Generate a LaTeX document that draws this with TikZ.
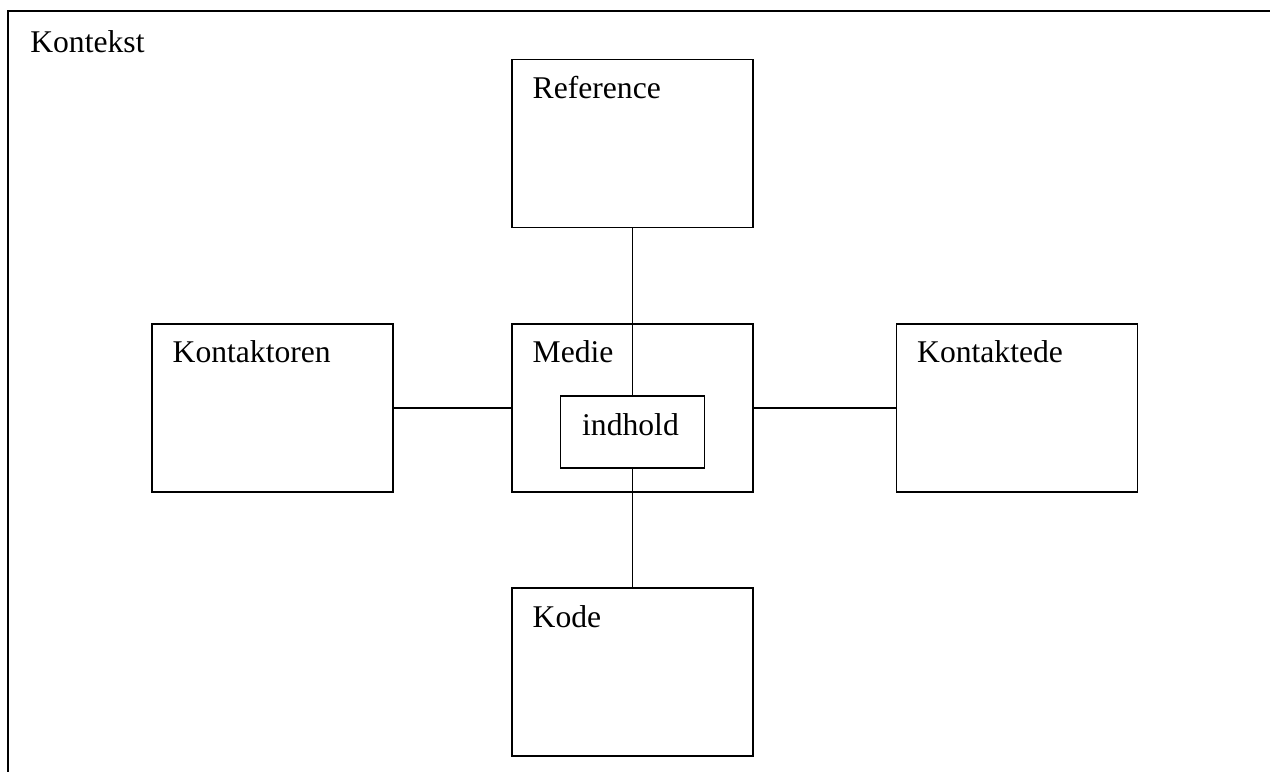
\documentclass[tikz,border=0pt]{standalone}
\usepackage{fontspec}
\setmainfont{Liberation Serif}
\usetikzlibrary{positioning}

\begin{document}
\begin{tikzpicture}[x=0.02cm, y=-0.02cm,
		boks/.style={draw, line width=0.8pt, inner sep=0pt, minimum width=4.82cm, minimum height=3.36cm},
		navn/.style={anchor=base west, inner sep=0pt, font=\fontsize{18}{22}\selectfont},
		forbind/.style={line width=0.8pt}]
			\useasboundingbox (0, 0) rectangle (1270, 771);
			\clip (0, 0) rectangle (1270, 771);

			% ramme for konteksten, kun venstre og oeverste kant er synlige
			\node[anchor=north west, inner sep=0pt, minimum width=30cm, minimum height=20cm] (kontekst) at (8, 11) {};
			\draw[line width=1.3pt] (kontekst.south west) -- (kontekst.north west) -- (kontekst.north east);
			\node[navn] (kontekstnavn) at ([shift={(22, 41)}]kontekst.north west) {Kontekst};

			\node[boks] (reference) at (632.5, 143.5) {};
			\node[boks] (medie) at (632.5, 408) {};
			\node[boks] (kode) at (632.5, 672) {};
			\node[boks] (kontaktoren) at (272.5, 408) {};
			\node[boks] (kontaktede) at (1017, 408) {};
			\node[draw, line width=0.8pt, inner sep=0pt, minimum width=2.88cm, minimum height=1.44cm] (indhold) at (632.5, 432) {};

			\node[navn] (referencenavn) at ([shift={(21, 40)}]reference.north west) {Reference};
			\node[navn] (medienavn) at ([shift={(21, 39)}]medie.north west) {Medie};
			\node[navn] (kodenavn) at ([shift={(21, 40)}]kode.north west) {Kode};
			\node[navn] (kontaktorennavn) at ([shift={(21, 39)}]kontaktoren.north west) {Kontaktoren};
			\node[navn] (kontaktedenavn) at ([shift={(21, 39)}]kontaktede.north west) {Kontaktede};
			\node[navn] (indholdnavn) at ([shift={(22, 40)}]indhold.north west) {indhold};

			\draw[forbind] (reference) -- (indhold);
			\draw[forbind] (indhold) -- (kode);
			\draw[forbind] (kontaktoren) -- (medie);
			\draw[forbind] (medie) -- (kontaktede);
		\end{tikzpicture}
\end{document}
